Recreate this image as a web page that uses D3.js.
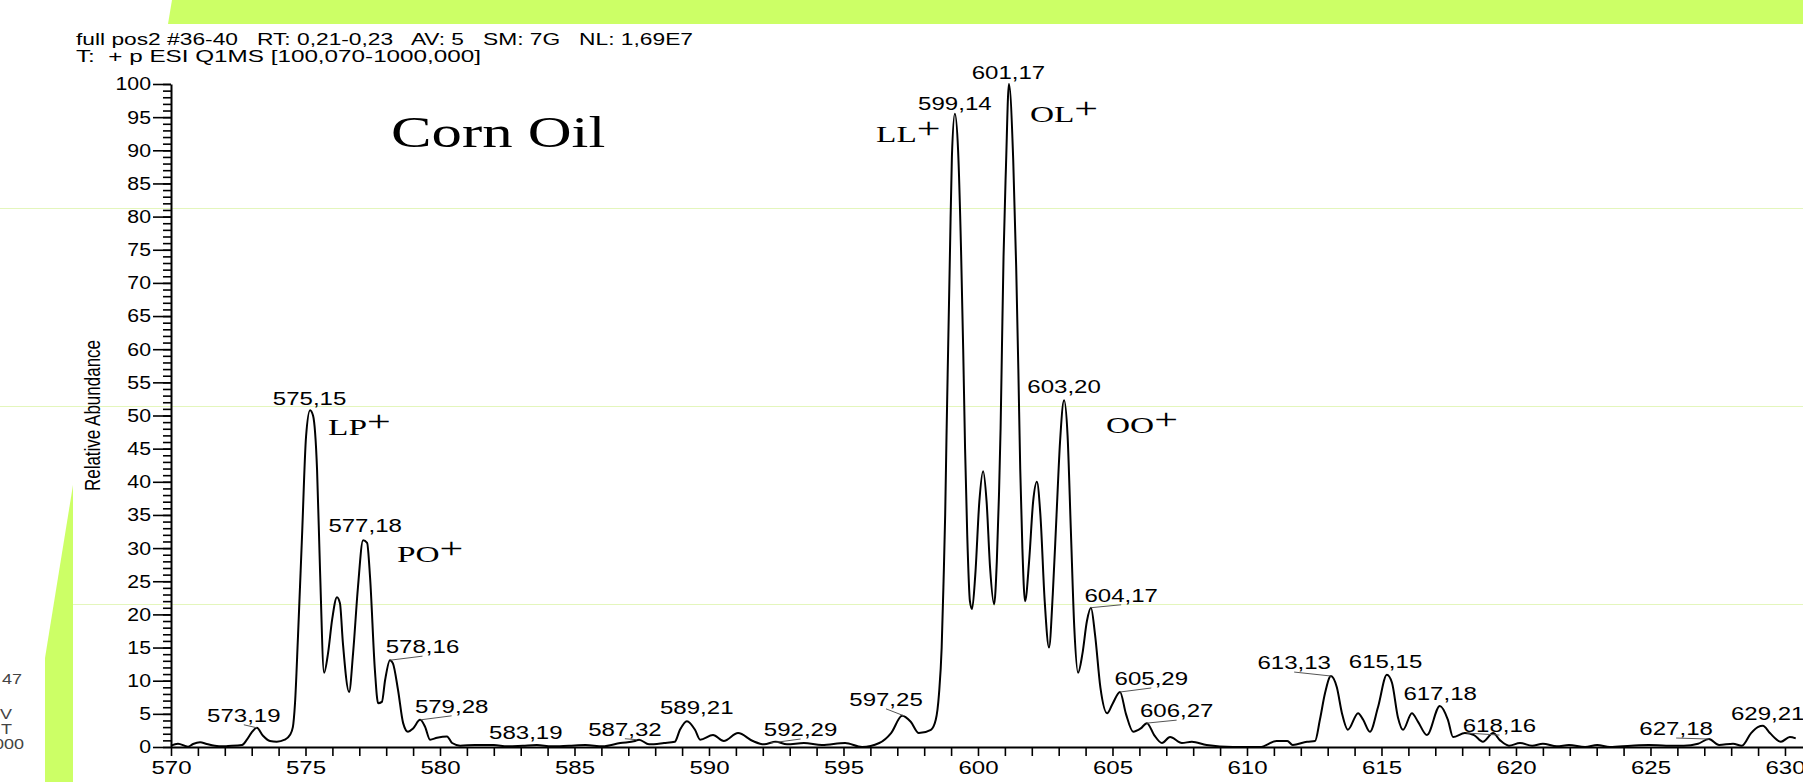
<!DOCTYPE html>
<html>
<head>
<meta charset="utf-8">
<script src="https://cdn.jsdelivr.net/npm/d3@7"></script>
<style>
  html, body { margin: 0; padding: 0; background: #fff; overflow: hidden; }
  svg { display: block; }
  text { font-family: "Liberation Sans", Arial, sans-serif; fill: #000; }
  .serif { font-family: "Liberation Serif", "Times New Roman", serif; }
</style>
</head>
<body>
<div id="chart"></div>
<script>
// spectrum profile (m/z, relative abundance)
var mz = [570.00, 570.26, 570.63, 570.82, 571.08, 571.33, 571.63, 571.90, 572.12, 572.64,
  572.82, 573.00, 573.19, 573.42, 573.68, 573.93, 574.23, 574.42, 574.53, 574.61,
  574.72, 574.87, 575.02, 575.17, 575.28, 575.43, 575.54, 575.69, 575.84, 575.99,
  576.17, 576.28, 576.39, 576.62, 576.77, 576.95, 577.14, 577.29, 577.40, 577.58,
  577.70, 577.84, 577.96, 578.14, 578.25, 578.44, 578.63, 578.81, 579.00, 579.26,
  579.44, 579.63, 579.89, 580.26, 580.45, 580.75, 581.30, 582.00, 582.50, 583.08,
  583.60, 584.15, 584.80, 585.41, 586.05, 586.70, 587.25, 587.40, 587.77, 588.33,
  588.73, 588.92, 589.18, 589.48, 589.67, 590.15, 590.55, 591.08, 591.63, 592.05,
  592.48, 592.90, 593.53, 594.20, 595.06, 595.69, 596.33, 596.77, 597.18, 597.50,
  597.80, 598.25, 598.43, 598.55, 598.65, 598.72, 598.78, 598.83, 598.89, 598.96,
  599.03, 599.14, 599.26, 599.37, 599.45, 599.52, 599.60, 599.70, 599.78, 599.90,
  600.05, 600.19, 600.32, 600.45, 600.60, 600.70, 600.78, 600.84, 600.89, 600.95,
  601.04, 601.15, 601.31, 601.42, 601.50, 601.57, 601.65, 601.75, 601.90, 602.05,
  602.19, 602.32, 602.48, 602.64, 602.78, 602.92, 603.05, 603.20, 603.33, 603.45,
  603.58, 603.72, 603.88, 604.05, 604.20, 604.35, 604.55, 604.80, 605.00, 605.28,
  605.50, 605.77, 606.05, 606.28, 606.55, 606.84, 607.14, 607.58, 607.95, 608.50,
  609.48, 610.48, 611.10, 611.50, 611.70, 612.23, 612.53, 612.71, 612.90, 613.12,
  613.34, 613.53, 613.75, 614.13, 614.32, 614.57, 614.87, 615.20, 615.39, 615.61,
  615.80, 616.13, 616.36, 616.69, 617.17, 617.47, 617.66, 618.10, 618.44, 618.77,
  619.15, 619.41, 619.74, 620.15, 620.60, 621.00, 621.52, 621.97, 622.57, 623.02,
  623.49, 624.28, 624.94, 625.58, 626.24, 626.77, 627.17, 627.55, 628.07, 628.40,
  628.74, 628.99, 629.18, 629.44, 629.85, 630.18, 630.40]
var abundance = [0.2, 0.5, 0.05, 0.45, 0.7, 0.45, 0.2, 0.1, 0.15, 0.3,
  1.1, 2.2, 2.9, 1.7, 0.9, 0.8, 1.1, 1.8, 3.0, 6.6,
  16.6, 31.7, 46.8, 50.8, 50.0, 41.8, 26.7, 11.2, 14.2, 19.2,
  22.6, 21.7, 15.7, 8.3, 14.2, 24.1, 31.2, 30.8, 25.6, 11.6,
  6.6, 6.8, 10.1, 13.1, 12.6, 8.6, 3.6, 2.3, 2.8, 4.1,
  3.1, 1.1, 1.4, 1.6, 0.6, 0.2, 0.3, 0.3, 0.1, 0.2,
  0.3, 0.1, 0.2, 0.3, 0.1, 0.6, 0.9, 1.1, 0.4, 0.6,
  0.8, 2.6, 3.9, 2.6, 1.1, 1.8, 0.9, 2.1, 0.9, 0.4,
  0.8, 0.4, 0.6, 0.3, 0.6, 0.0, 0.6, 2.1, 4.7, 3.8,
  2.1, 2.6, 4.1, 8, 15, 25, 35, 47, 60, 75,
  89, 95.5, 90, 75, 60, 45, 32, 22, 20.8, 26,
  37, 41.6, 37, 27, 21.5, 28, 38, 48, 60, 74,
  87.5, 100, 88.5, 72.4, 57, 42, 30, 22, 28, 37,
  40, 35, 22, 15, 23, 35, 46, 52.3, 47, 33,
  18, 11.2, 14, 19, 21, 17, 9, 5.1, 6.5, 8.3,
  5, 2.3, 2.8, 3.6, 1.8, 0.6, 1.5, 0.6, 0.8, 0.3,
  0.0, 0.0, 0.9, 0.9, 0.3, 0.8, 0.9, 4.1, 8.1, 10.7,
  9.0, 5.1, 2.6, 5.1, 4.1, 2.3, 6.0, 10.9, 9.7, 4.5,
  2.6, 5.1, 3.8, 1.8, 6.2, 4.1, 1.5, 2.1, 1.8, 0.8,
  2.1, 1.0, 0.2, 0.6, 0.2, 0.5, 0.1, 0.3, 0.0, 0.3,
  0.0, 0.2, 0.3, 0.2, 0.2, 0.5, 1.2, 0.3, 0.5, 0.2,
  2.1, 3.0, 3.2, 2.1, 0.8, 1.5, 1.3]

// labelled peaks
var peakMz = [573.19, 575.15, 577.18, 578.16, 579.28, 583.19, 587.32, 589.21, 592.29, 597.25,
  599.14, 601.17, 603.20, 604.17, 605.29, 606.27, 613.13, 615.15, 617.18, 618.16, 627.18, 629.21]
var peakVal = [2.9, 50.8, 31.2, 13.1, 4.1, 0.2, 1.1, 3.9, 0.6, 4.7,
  95.5, 100, 52.3, 21, 8.3, 3.6, 10.7, 10.9, 6.2, 2.1, 1.2, 3.2]
var peakText = ['573,19', '575,15', '577,18', '578,16', '579,28', '583,19', '587,32', '589,21', '592,29', '597,25',
  '599,14', '601,17', '603,20', '604,17', '605,29', '606,27', '613,13', '615,15', '617,18', '618,16', '627,18', '629,21']
// label offsets from the peak top, px
var labelDx = [-13, 0, 1, 32, 31, 0, -12, 9, 30, -18, 0, -1, 0, 31, 31, 30, -37, 0, 0, 33, -33, 4]
var labelDy = [-6, -5, -8, -7, -7, -7, -4, -7, -7, -10, -4, -5, -7, -6, -7, -6, -7, -7, -6, -1, -4, -6]

// species names, placed in data units (left edge, baseline)
var speciesText = ['LP', 'PO', 'LL', 'OL', 'OO']
var speciesMz = [575.84, 578.40, 596.21, 601.93, 604.76]
var speciesAb = [47.1, 27.9, 91.2, 94.3, 47.4]

var xTicks = d3.range(570, 631, 1)
var yTicks = d3.range(0, 101, 1)
var yLabels = d3.range(0, 101, 5)

var W = 1803, H = 782
var SX = 1.3   // the picture is stretched sideways, text too

var svg = d3.select('#chart').append('svg')
  .attr('width', W)
  .attr('height', H)

// slide background bits
svg.append('polygon')
  .attr('points', '172,0 1803,0 1803,24 168,24')
  .attr('fill', '#ccff66')
svg.append('polygon')
  .attr('points', '73,485 73,782 45,782 45,658')
  .attr('fill', '#ccff66')
svg.selectAll('line.bg')
  .data([208, 406, 604])
  .enter()
  .append('line')
  .attr('class', 'bg')
  .attr('x1', function (d, i) { return i == 2 ? 73 : 0 })
  .attr('x2', W)
  .attr('y1', function (d) { return d + 0.5 })
  .attr('y2', function (d) { return d + 0.5 })
  .attr('stroke', '#e4f6bc')
  .attr('stroke-width', 1)

// clipped text at the left border
var side = [['47', 22, 684], ['V', 12, 719], ['T', 12, 734], ['000', 24, 749]]
side.forEach(function (s) {
  svg.append('text')
    .attr('transform', 'translate(' + s[1] + ',' + s[2] + ') scale(1.2,1)')
    .attr('text-anchor', 'end')
    .style('font-size', '15px')
    .style('fill', '#444')
    .text(s[0])
})

// header
var header = ['full pos2 #36-40   RT: 0,21-0,23   AV: 5   SM: 7G   NL: 1,69E7',
  'T:  + p ESI Q1MS [100,070-1000,000]']
var headerLen = [617, 405]
header.forEach(function (h, i) {
  svg.append('text')
    .attr('x', 76)
    .attr('y', 45 + i * 17)
    .attr('xml:space', 'preserve')
    .attr('textLength', headerLen[i])
    .attr('lengthAdjust', 'spacingAndGlyphs')
    .style('white-space', 'pre')
    .style('font-size', '17px')
    .text(h)
})

var x = d3.scaleLinear().domain([570, 630.67]).range([171, 1803])
var y = d3.scaleLinear().domain([0, 100]).range([747, 84])

// axes
var gx = svg.append('g')
  .attr('transform', 'translate(0,' + y(0) + ')')
  .call(d3.axisBottom(x).tickValues(xTicks).tickSize(9).tickSizeOuter(0).tickPadding(5)
    .tickFormat(function (d) { return d % 5 == 0 ? d : '' }))
gx.select('.domain').attr('stroke-width', 2)
gx.selectAll('.tick line').attr('stroke-width', 1.6)
gx.selectAll('.tick text')
  .attr('transform', 'scale(' + SX + ',1)')
  .style('font-size', '18.5px')
  .style('font-family', '"Liberation Sans", Arial, sans-serif')
  .attr('fill', '#000')

var gyMinor = svg.append('g')
  .attr('transform', 'translate(' + x(570) + ',0)')
  .call(d3.axisLeft(y).tickValues(yTicks).tickSize(8).tickSizeOuter(0).tickFormat(''))
gyMinor.select('.domain').attr('stroke-width', 2)
gyMinor.selectAll('.tick line').attr('stroke-width', 1.6)

var gy = svg.append('g')
  .attr('transform', 'translate(' + x(570) + ',0)')
  .call(d3.axisLeft(y).tickValues(yLabels).tickSize(18).tickSizeOuter(0))
gy.select('.domain').remove()
gy.selectAll('.tick line').attr('stroke-width', 1.6)
gy.selectAll('.tick text')
  .attr('x', -20 / 1.15)
  .attr('transform', 'scale(1.15,1)')
  .style('font-size', '18.5px')
  .style('font-family', '"Liberation Sans", Arial, sans-serif')
  .attr('fill', '#000')

svg.append('text')
  .attr('transform', 'translate(100,' + ((y(0) + y(100)) / 2) + ') scale(' + SX + ',1) rotate(-90)')
  .attr('text-anchor', 'middle')
  .style('font-size', '17px')
  .text('Relative Abundance')

// spectrum
var pts = mz.map(function (m, i) { return [m, abundance[i]] })
var line = d3.line()
  .x(function (d) { return x(d[0]) })
  .y(function (d) { return y(d[1]) })
  .curve(d3.curveMonotoneX)
svg.append('path')
  .attr('d', line(pts))
  .attr('fill', 'none')
  .attr('stroke', '#000')
  .attr('stroke-width', 2)
  .attr('stroke-linejoin', 'round')

// peak labels with their little leader lines
for (var i = 0; i < peakMz.length; i++) {
  var px = x(peakMz[i]), py = y(peakVal[i])
  if (Math.abs(labelDx[i]) > 10) {
    svg.append('line')
      .attr('x1', px).attr('y1', py)
      .attr('x2', px + labelDx[i]).attr('y2', py + labelDy[i] + 3)
      .attr('stroke', '#555')
      .attr('stroke-width', 1)
  }
  svg.append('text')
    .attr('transform', 'translate(' + (px + labelDx[i]) + ',' + (py + labelDy[i]) + ') scale(' + SX + ',1)')
    .attr('text-anchor', 'middle')
    .style('font-size', '18.5px')
    .text(peakText[i])
}

// species names
for (var k = 0; k < speciesText.length; k++) {
  var t = svg.append('text')
    .attr('class', 'serif')
    .attr('transform', 'translate(' + x(speciesMz[k]) + ',' + y(speciesAb[k]) + ') scale(1.45,1)')
  t.append('tspan').style('font-size', '23px').text(speciesText[k])
  t.append('tspan').style('font-size', '29px').attr('dy', -4).text('+')
}

svg.append('text')
  .attr('class', 'serif')
  .attr('transform', 'translate(' + x(578.18) + ',' + y(90.5) + ') scale(1.35,1)')
  .style('font-size', '45px')
  .text('Corn Oil')
</script>
</body>
</html>
